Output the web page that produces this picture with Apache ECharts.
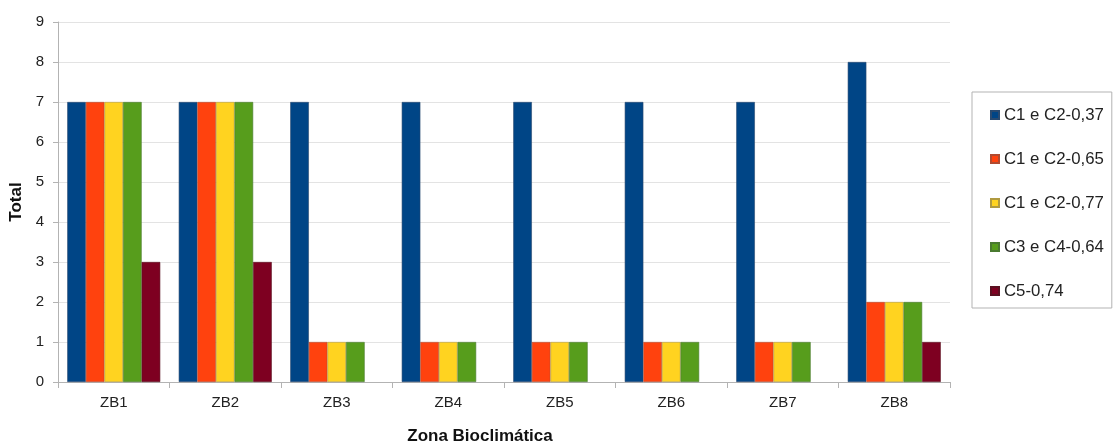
<!DOCTYPE html>
<html><head><meta charset="utf-8">
<script src="https://cdn.jsdelivr.net/npm/echarts@6/dist/echarts.min.js"></script>
<style>html,body{margin:0;padding:0;background:#fff}#c{width:1114px;height:444px}</style>
</head><body><div id="c"></div>
<script>
const categories = ['ZB1','ZB2','ZB3','ZB4','ZB5','ZB6','ZB7','ZB8'];
const seriesNames = ['C1 e C2-0,37','C1 e C2-0,65','C1 e C2-0,77','C3 e C4-0,64','C5-0,74'];
const s1 = [7,7,7,7,7,7,7,8];
const s2 = [7,7,1,1,1,1,1,2];
const s3 = [7,7,1,1,1,1,1,2];
const s4 = [7,7,1,1,1,1,1,2];
const s5 = [3,3,0,0,0,0,0,1];
const colors = ['#004586','#ff420e','#ffd320','#579d1c','#7e0021'];
const borders = ['#2a4a70','#b04a30','#b09a40','#4a7a30','#5a1020'];
const data = [s1,s2,s3,s4,s5];
const font = 'Liberation Sans, Arial, sans-serif';
const chart = echarts.init(document.getElementById('c'));
chart.setOption({
  animation:false,
  textStyle:{fontFamily:font},
  title:{text:'Zona Bioclimática',left:480,top:428,textAlign:'center',padding:0,
    textStyle:{fontFamily:font,fontSize:17,fontWeight:'bold',color:'#111'}},
  legend:{orient:'vertical',left:972,top:92,padding:[14,8,8,18],
    borderColor:'#b3b3b3',borderWidth:1,itemWidth:8,itemHeight:8,itemGap:26,
    icon:'rect',
    textStyle:{fontFamily:font,fontSize:16.8,color:'#222',lineHeight:18}},
  grid:{left:58,top:22,right:164,bottom:62,containLabel:false,outerBoundsMode:'none'},
  xAxis:{type:'category',data:categories,
    axisLine:{lineStyle:{color:'#b3b3b3'}},
    axisTick:{show:true,length:6,lineStyle:{color:'#b3b3b3'}},
    axisLabel:{color:'#222',fontSize:15,margin:13,fontFamily:font},
    splitLine:{show:false}},
  yAxis:{type:'value',min:0,max:9,interval:1,name:'Total',nameLocation:'center',nameGap:31,
    nameTextStyle:{fontFamily:font,fontSize:17,fontWeight:'bold',color:'#111'},
    axisLine:{show:true,lineStyle:{color:'#b3b3b3'}},
    axisTick:{show:true,length:5,lineStyle:{color:'#b3b3b3'}},
    axisLabel:{color:'#222',fontSize:15,margin:14,fontFamily:font},
    splitLine:{lineStyle:{color:'#e3e3e3'}}},
  series:data.map((d,i)=>({name:seriesNames[i],type:'bar',
    data:d.map(v=>v===0?{value:v,itemStyle:{borderWidth:0}}:v),
    barGap:'0%',barCategoryGap:'16.6%',
    itemStyle:{color:colors[i],borderColor:borders[i],borderWidth:0.6}}))
});
</script></body></html>
